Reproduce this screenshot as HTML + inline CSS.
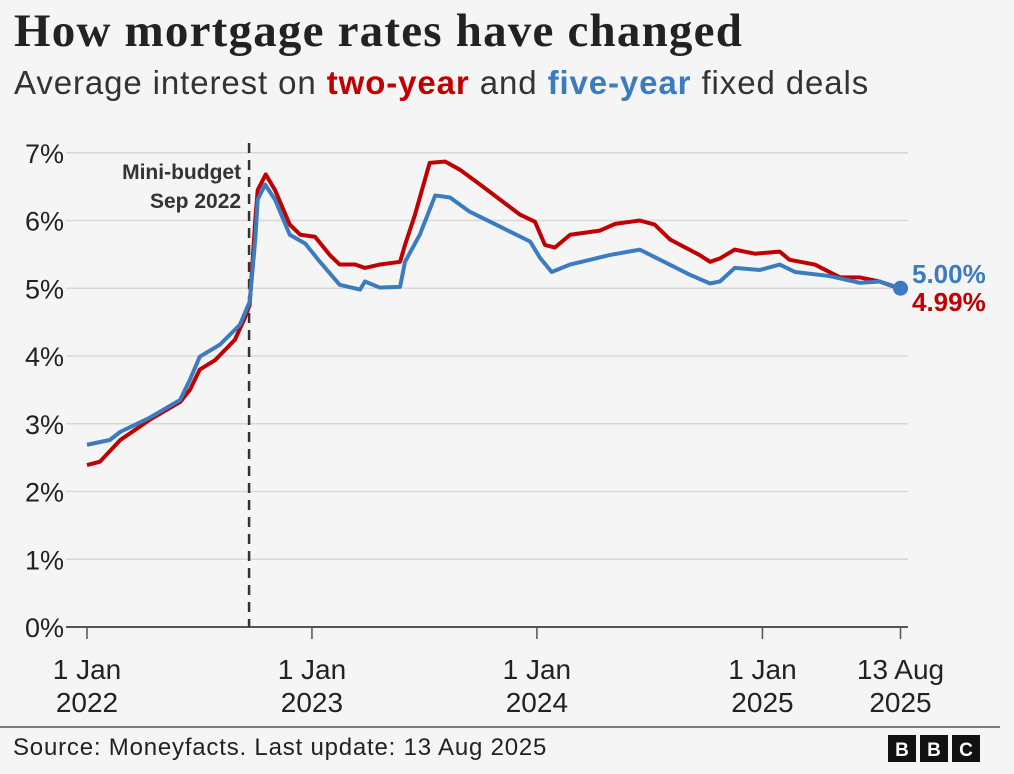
<!DOCTYPE html>
<html><head><meta charset="utf-8">
<style>
html,body{margin:0;padding:0;background:#f5f5f5;}
body{width:1014px;height:774px;position:relative;overflow:hidden;font-family:"Liberation Sans",sans-serif;}
#title{position:absolute;left:14px;top:4px;font-family:"Liberation Serif",serif;font-weight:bold;font-size:47px;color:#222;letter-spacing:1.2px;white-space:nowrap;}
#subtitle{position:absolute;left:14px;top:64px;font-size:33px;color:#333;white-space:nowrap;letter-spacing:0.9px;}
.red{color:#c00000;font-weight:bold;}
.blue{color:#3b7bbf;font-weight:bold;}
svg{position:absolute;left:0;top:0;}
</style></head>
<body>
<div id="title">How mortgage rates have changed</div>
<div id="subtitle">Average interest on <span class="red">two-year</span> and <span class="blue">five-year</span> fixed deals</div>
<svg id="chart" width="1014" height="774"></svg>
<script>
const yTicks=[0,1,2,3,4,5,6,7];
const xTickDays=[0,365,730,1096,1320];
const xTickLine1=["1 Jan","1 Jan","1 Jan","1 Jan","13 Aug"];
const xTickLine2=["2022","2023","2024","2025","2025"];
const twoYearDays=[0,21,54,102,151,167,183,208,240,256,264,273,277,290,305,329,346,370,394,410,435,451,475,508,516,532,556,581,605,638,670,702,727,743,759,784,832,857,897,921,946,994,1011,1027,1051,1084,1124,1140,1181,1222,1254,1286,1320];
const twoYearRates=[2.39,2.44,2.76,3.06,3.32,3.50,3.80,3.94,4.24,4.56,4.76,6.0,6.45,6.68,6.45,5.94,5.79,5.76,5.49,5.35,5.35,5.30,5.35,5.39,5.64,6.08,6.85,6.87,6.75,6.53,6.31,6.09,5.98,5.64,5.60,5.79,5.85,5.95,6.0,5.94,5.72,5.49,5.39,5.44,5.57,5.51,5.54,5.42,5.35,5.16,5.16,5.10,4.99];
const fiveYearDays=[0,37,54,102,151,167,183,216,248,264,273,277,289,305,329,354,378,410,443,451,475,508,516,540,565,589,621,670,719,735,754,784,816,848,897,930,978,1011,1027,1051,1092,1124,1149,1205,1254,1286,1320];
const fiveYearRates=[2.69,2.76,2.88,3.09,3.35,3.65,3.99,4.17,4.46,4.80,5.72,6.31,6.53,6.31,5.79,5.66,5.39,5.05,4.98,5.10,5.01,5.02,5.39,5.79,6.37,6.34,6.13,5.91,5.69,5.45,5.24,5.35,5.42,5.49,5.57,5.42,5.20,5.07,5.10,5.30,5.27,5.35,5.24,5.18,5.08,5.10,5.00];
const miniBudgetDay=263;
const NS="http://www.w3.org/2000/svg";
const svg=document.getElementById('chart');
const X=d=>87+d*(813.5/1320);
const Y=v=>627-v*67.75;
function mk(tag,attrs,parent){const e=document.createElementNS(NS,tag);for(const k in attrs)e.setAttribute(k,attrs[k]);(parent||svg).appendChild(e);return e;}
yTicks.forEach(v=>{
  const l=mk('line',{x1:66,x2:908,y1:Y(v),y2:Y(v),stroke:v===0?'#555':'#d8d8d8','stroke-width':v===0?2:1.5});
  
  
  const t=mk('text',{x:64,y:Y(v)+10,'text-anchor':'end','font-size':27,fill:'#222','font-family':'Liberation Sans, sans-serif'});
  t.textContent=v+'%';
  
  
});
xTickDays.forEach((d,i)=>{
  const tk=mk('line',{x1:X(d),x2:X(d),y1:627,y2:639,stroke:'#555','stroke-width':1.5});
  
  
  const t1=mk('text',{x:X(d),y:679,'text-anchor':'middle','font-size':28,fill:'#222'});
  t1.textContent=xTickLine1[i];
  
  
  const t2=mk('text',{x:X(d),y:712,'text-anchor':'middle','font-size':28,fill:'#222'});
  t2.textContent=xTickLine2[i];
  
  
});
const mb=mk('line',{x1:X(miniBudgetDay),x2:X(miniBudgetDay),y1:143,y2:627,stroke:'#333','stroke-width':2.5,'stroke-dasharray':'10 7'});


const a1=mk('text',{x:X(miniBudgetDay)-8,y:179,'text-anchor':'end','font-size':21,'font-weight':'bold',fill:'#333'});
a1.textContent='Mini-budget';


const a2=mk('text',{x:X(miniBudgetDay)-8,y:208,'text-anchor':'end','font-size':21,'font-weight':'bold',fill:'#333'});
a2.textContent='Sep 2022';


function line(days,vals,color,name){
  const p=mk('polyline',{points:days.map((d,i)=>X(d)+','+Y(vals[i])).join(' '),fill:'none',stroke:color,'stroke-width':4,'stroke-linejoin':'round'});
  
  
}
line(twoYearDays,twoYearRates,'#c00000','two-year-line');
line(fiveYearDays,fiveYearRates,'#3b7bbf','five-year-line');
const n=fiveYearDays.length-1;
const dot=mk('circle',{cx:X(fiveYearDays[n]),cy:Y(fiveYearRates[n]),r:7.5,fill:'#3b7bbf'});


const l5=mk('text',{x:912,y:283,'font-size':26,'font-weight':'bold',fill:'#3b7bbf'});
l5.textContent=fiveYearRates[n].toFixed(2)+'%';


const l2=mk('text',{x:912,y:311,'font-size':26,'font-weight':'bold',fill:'#c00000'});
l2.textContent=twoYearRates[twoYearRates.length-1].toFixed(2)+'%';


const fl=mk('line',{x1:0,x2:1000,y1:727,y2:727,stroke:'#555','stroke-width':1.5});


const src=mk('text',{x:13,y:755,'font-size':24,fill:'#222','letter-spacing':0.8});
src.textContent='Source: Moneyfacts. Last update: 13 Aug 2025';


['B','B','C'].forEach((c,i)=>{
  const r=mk('rect',{x:888+i*32,y:735,width:28,height:27,fill:'#111'});
  
  
  const t=mk('text',{x:902+i*32,y:756,'text-anchor':'middle','font-size':19,'font-weight':'bold',fill:'#fff'});
  t.textContent=c;
  
  
});
</script>
</body></html>
